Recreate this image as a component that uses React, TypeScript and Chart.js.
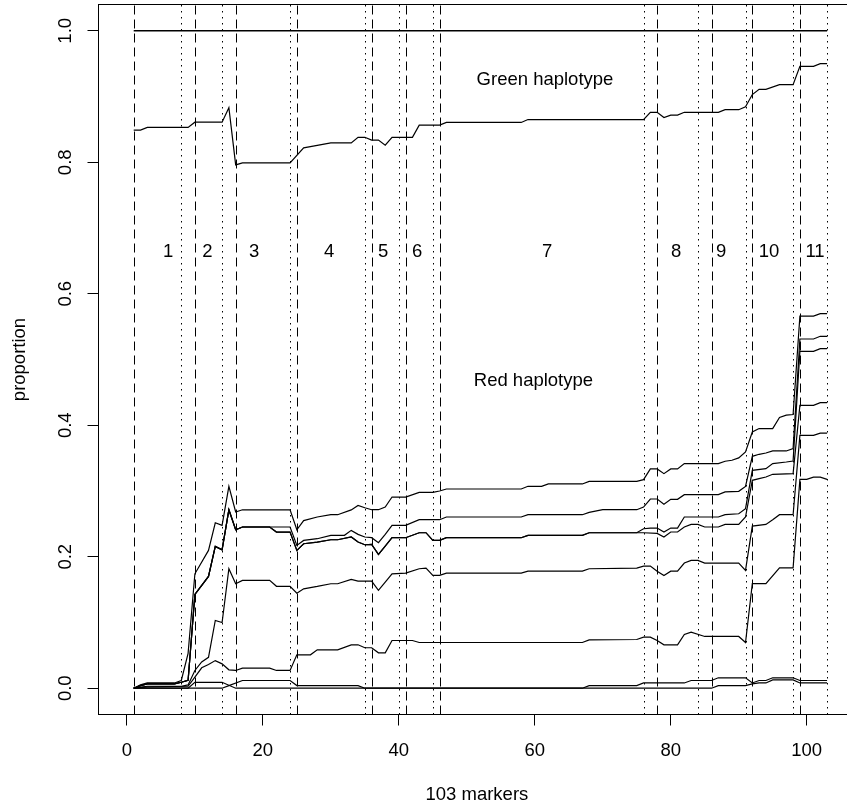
import React, { useEffect, useRef } from 'react';
import { Chart, registerables } from 'chart.js';

Chart.register(...registerables);

const FONT = '"Liberation Sans", Arial, Helvetica, sans-serif';
const FONT_SIZE = 18.5;

// axis ticks
const xTicks = [0, 20, 40, 60, 80, 100];
const yTicks = [0, 0.2, 0.4, 0.6, 0.8, 1.0];

// block boundaries (marker index)
const blockStarts = [1, 10, 16, 25, 36, 41, 46, 78, 86, 92, 99]; // dashed
const blockEnds = [8, 14, 24, 35, 40, 45, 76, 84, 91, 98, 103]; // dotted
const blockLabels = ['1', '2', '3', '4', '5', '6', '7', '8', '9', '10', '11'];
const blockLabelX = [6.07, 11.84, 18.72, 29.75, 37.69, 42.69, 61.81, 80.78, 87.4, 94.46, 101.22];
const blockLabelY = 0.663;

const annotations = [
  { text: 'Green haplotype', x: 61.5, y: 0.926 },
  { text: 'Red haplotype', x: 59.8, y: 0.467 },
];

// series: [marker, proportion]
const totalLine: [number, number][] = [[1, 1], [103, 1]];

const greenLine: [number, number][] = [
  [1, 0.849], [2, 0.849], [3, 0.853], [9, 0.853], [10, 0.861], [14, 0.861], [15, 0.883], [16, 0.796],
  [17, 0.799], [24, 0.799], [26, 0.822], [28, 0.8256], [30, 0.8295], [33, 0.8295], [34, 0.838], [35, 0.838],
  [36, 0.8337], [37, 0.8337], [38, 0.826], [39, 0.838], [42, 0.838], [43, 0.8565], [46, 0.8565], [47, 0.8606],
  [58, 0.8606], [59, 0.865], [76, 0.865], [77, 0.876], [78, 0.876], [79, 0.868], [80, 0.8717], [81, 0.8717],
  [82, 0.876], [87, 0.876], [88, 0.88], [90, 0.88], [91, 0.8843], [92, 0.903], [93, 0.911], [94, 0.911],
  [96, 0.918], [98, 0.918], [99, 0.946], [101, 0.946], [102, 0.95], [103, 0.95],
];

const red1: [number, number][] = [
  [1, 0], [2, 0.005], [3, 0.008], [7, 0.008], [8, 0.0117], [9, 0.053], [10, 0.174], [12, 0.2096], [13, 0.2517],
  [14, 0.2476], [15, 0.307], [16, 0.268], [17, 0.2714], [24, 0.2714], [25, 0.241], [26, 0.255], [28, 0.2604],
  [30, 0.2639], [31, 0.2639], [33, 0.2712], [34, 0.2781], [35, 0.2745], [36, 0.2715], [37, 0.2715], [38, 0.2756],
  [39, 0.2908], [41, 0.2908], [43, 0.2979], [45, 0.2979], [46, 0.3], [47, 0.303], [58, 0.303], [59, 0.3071],
  [61, 0.3071], [62, 0.3107], [67, 0.3107], [68, 0.3147], [75, 0.3147], [76, 0.3173], [77, 0.3335], [78, 0.3335],
  [79, 0.3264], [80, 0.3335], [81, 0.3335], [82, 0.3416], [87, 0.3416], [88, 0.3452], [89, 0.3467], [90, 0.3503],
  [91, 0.3594], [92, 0.3898], [93, 0.395], [95, 0.395], [96, 0.4117], [97, 0.4153], [98, 0.4163], [99, 0.566],
  [101, 0.566], [102, 0.5698], [103, 0.5698],
];

const red2: [number, number][] = [
  [1, 0], [2, 0.004], [3, 0.0065], [7, 0.0065], [8, 0.009], [9, 0.012], [10, 0.1426], [12, 0.17], [13, 0.2157],
  [14, 0.2106], [15, 0.2714], [16, 0.241], [17, 0.2452], [24, 0.2452], [25, 0.2172], [26, 0.2248], [28, 0.2274],
  [30, 0.2325], [32, 0.2325], [33, 0.2401], [34, 0.234], [35, 0.23], [36, 0.229], [37, 0.2213], [38, 0.234],
  [39, 0.2477], [41, 0.2477], [43, 0.2563], [46, 0.2563], [47, 0.2604], [58, 0.2604], [59, 0.2639], [67, 0.2639],
  [68, 0.2675], [70, 0.2715], [75, 0.2715], [76, 0.2756], [77, 0.2878], [78, 0.2878], [79, 0.2797], [80, 0.2873],
  [81, 0.2873], [82, 0.2944], [87, 0.2944], [88, 0.2985], [90, 0.2995], [91, 0.307], [92, 0.3527], [93, 0.3558],
  [94, 0.3578], [95, 0.3609], [97, 0.3609], [98, 0.3645], [99, 0.5312], [101, 0.5312], [102, 0.5353], [103, 0.5353],
];

const red3: [number, number][] = [
  [1, 0], [2, 0.004], [3, 0.0065], [7, 0.0065], [8, 0.009], [9, 0.012], [10, 0.1426], [12, 0.17], [13, 0.2157],
  [14, 0.2106], [15, 0.2714], [16, 0.241], [17, 0.2452], [21, 0.2452], [22, 0.2375], [24, 0.2375], [25, 0.2096],
  [26, 0.2198], [28, 0.2223], [30, 0.2258], [31, 0.2258], [33, 0.23], [34, 0.2223], [35, 0.2182], [36, 0.2187],
  [37, 0.2035], [38, 0.2161], [39, 0.2289], [41, 0.2289], [43, 0.2365], [44, 0.2365], [45, 0.2248], [46, 0.2248],
  [47, 0.2289], [58, 0.2289], [59, 0.2325], [67, 0.2325], [68, 0.2365], [75, 0.2365], [76, 0.2426], [77, 0.2436],
  [78, 0.2436], [79, 0.2375], [80, 0.2436], [81, 0.2436], [82, 0.2604], [87, 0.2604], [88, 0.2639], [90, 0.2654],
  [91, 0.2731], [92, 0.3314], [94, 0.334], [95, 0.3416], [97, 0.3441], [98, 0.3456], [99, 0.5125], [101, 0.5125],
  [102, 0.5166], [103, 0.5166],
];

const red4: [number, number][] = [
  [1, 0], [2, 0.004], [3, 0.0065], [7, 0.0065], [8, 0.009], [9, 0.012], [10, 0.1426], [12, 0.17], [13, 0.2157],
  [14, 0.2106], [15, 0.2714], [16, 0.241], [17, 0.2452], [21, 0.2452], [22, 0.2375], [24, 0.2375], [25, 0.2096],
  [26, 0.2198], [28, 0.2223], [30, 0.2258], [31, 0.2258], [33, 0.23], [34, 0.2223], [35, 0.2182], [36, 0.2187],
  [37, 0.2035], [38, 0.2161], [39, 0.2289], [41, 0.2289], [43, 0.2365], [44, 0.2365], [45, 0.2248], [46, 0.2248],
  [47, 0.2289], [58, 0.2289], [59, 0.2325], [67, 0.2325], [68, 0.2365], [76, 0.2365], [78, 0.2355], [79, 0.23],
  [80, 0.2376], [81, 0.2376], [82, 0.2452], [83, 0.2492], [84, 0.2492], [85, 0.2452], [87, 0.2452], [88, 0.2492],
  [90, 0.2492], [91, 0.2604], [92, 0.3162], [93, 0.3188], [94, 0.3213], [95, 0.3254], [98, 0.3264], [99, 0.4303],
  [101, 0.4303], [102, 0.4344], [103, 0.4344],
];

const red5: [number, number][] = [
  [1, 0], [3, 0.003], [8, 0.003], [9, 0.005], [10, 0.027], [11, 0.04], [12, 0.047], [13, 0.103], [14, 0.1],
  [15, 0.1817], [16, 0.159], [17, 0.164], [21, 0.164], [22, 0.155], [24, 0.155], [25, 0.1446], [26, 0.1512],
  [28, 0.1548], [30, 0.1589], [31, 0.1589], [33, 0.1655], [34, 0.163], [36, 0.163], [37, 0.1488], [38, 0.1615],
  [39, 0.174], [41, 0.175], [43, 0.1817], [44, 0.1827], [45, 0.1716], [46, 0.1716], [47, 0.175], [58, 0.175],
  [59, 0.178], [67, 0.178], [68, 0.1817], [75, 0.1827], [76, 0.1858], [77, 0.1858], [78, 0.178], [79, 0.1714],
  [80, 0.178], [81, 0.178], [82, 0.1904], [83, 0.1944], [84, 0.1944], [85, 0.1904], [90, 0.1904], [91, 0.1792],
  [92, 0.2466], [94, 0.2492], [95, 0.2563], [96, 0.2639], [98, 0.2639], [99, 0.3846], [101, 0.3846], [102, 0.3881],
  [103, 0.3881],
];

const red6: [number, number][] = [
  [1, 0], [3, 0.002], [9, 0.003], [10, 0.017], [11, 0.031], [12, 0.036], [13, 0.042], [14, 0.037], [15, 0.028],
  [16, 0.027], [17, 0.0305], [21, 0.0305], [22, 0.027], [24, 0.027], [25, 0.0508], [27, 0.0508], [28, 0.0584],
  [31, 0.0584], [33, 0.066], [34, 0.066], [35, 0.0615], [36, 0.0615], [37, 0.0538], [38, 0.0538], [39, 0.0726],
  [42, 0.0726], [43, 0.0695], [67, 0.0695], [68, 0.0736], [75, 0.0741], [76, 0.0777], [77, 0.0777], [78, 0.0726],
  [79, 0.066], [81, 0.066], [82, 0.0817], [83, 0.0853], [85, 0.0787], [90, 0.0787], [91, 0.0695], [92, 0.159],
  [94, 0.159], [96, 0.183], [98, 0.183], [99, 0.3177], [100, 0.3177], [101, 0.321], [102, 0.321], [103, 0.3177],
];

const red7: [number, number][] = [
  [1, 0], [9, 0], [10, 0.009], [14, 0.009], [16, 0], [86, 0], [87, 0.004], [91, 0.004], [92, 0.0066], [93, 0.008],
  [94, 0.008], [95, 0.0127], [98, 0.0127], [99, 0.008], [103, 0.008],
];

const red8: [number, number][] = [
  [1, 0], [14, 0], [15, 0.004], [17, 0.0117], [24, 0.0117], [25, 0.004], [34, 0.004], [35, 0], [67, 0], [68, 0.004],
  [75, 0.004], [76, 0.008], [82, 0.008], [83, 0.0117], [86, 0.0117], [87, 0.0158], [91, 0.0158], [92, 0.008],
  [93, 0.0117], [94, 0.0117], [95, 0.0158], [98, 0.0158], [99, 0.0117], [103, 0.0117],
];

const seriesList: { name: string; pts: [number, number][]; width: number }[] = [
  { name: 'total', pts: totalLine, width: 1.5 },
  { name: 'green', pts: greenLine, width: 1.2 },
  { name: 'red1', pts: red1, width: 1.2 },
  { name: 'red2', pts: red2, width: 1.2 },
  { name: 'red3', pts: red3, width: 1.2 },
  { name: 'red4', pts: red4, width: 1.2 },
  { name: 'red5', pts: red5, width: 1.2 },
  { name: 'red6', pts: red6, width: 1.2 },
  { name: 'red7', pts: red7, width: 1.2 },
  { name: 'red8', pts: red8, width: 1.2 },
];

const decorPlugin = {
  id: 'decor',
  beforeDatasetsDraw(chart: any) {
    const { ctx, chartArea } = chart;
    const xs = chart.scales.x;
    ctx.save();
    ctx.beginPath();
    ctx.rect(chartArea.left, chartArea.top, chartArea.right - chartArea.left, chartArea.bottom - chartArea.top);
    ctx.clip();
    ctx.strokeStyle = '#000';
    ctx.lineWidth = 1;
    const drawV = (v: number, dash: number[]) => {
      const px = Math.round(xs.getPixelForValue(v)) + 0.5;
      ctx.setLineDash(dash);
      ctx.beginPath();
      ctx.moveTo(px, chartArea.bottom);
      ctx.lineTo(px, chartArea.top);
      ctx.stroke();
    };
    blockStarts.forEach((v) => drawV(v, [9, 5]));
    blockEnds.forEach((v) => drawV(v, [1.5, 4.5]));
    ctx.restore();
  },
  afterDatasetsDraw(chart: any) {
    const { ctx, chartArea } = chart;
    const xs = chart.scales.x;
    const ys = chart.scales.y;
    ctx.save();
    ctx.strokeStyle = '#000';
    ctx.lineWidth = 1;
    ctx.setLineDash([]);
    ctx.strokeRect(chartArea.left, chartArea.top, chartArea.right - chartArea.left, chartArea.bottom - chartArea.top);
    ctx.fillStyle = '#000';
    ctx.font = `${FONT_SIZE}px ${FONT}`;
    ctx.textAlign = 'center';
    ctx.textBaseline = 'middle';
    blockLabels.forEach((t, i) => {
      ctx.fillText(t, xs.getPixelForValue(blockLabelX[i]), ys.getPixelForValue(blockLabelY));
    });
    annotations.forEach((a) => {
      ctx.fillText(a.text, xs.getPixelForValue(a.x), ys.getPixelForValue(a.y));
    });
    ctx.restore();
  },
};

export default function App() {
  const ref = useRef<HTMLCanvasElement | null>(null);
  useEffect(() => {
    if (!ref.current) return;
    const chart = new Chart(ref.current, {
      type: 'line',
      data: {
        datasets: seriesList.map((s) => ({
          label: s.name,
          data: s.pts.map(([x, y]) => ({ x, y })),
          borderColor: '#000',
          borderWidth: s.width,
          pointRadius: 0,
          tension: 0,
          fill: false,
        })),
      },
      options: {
        animation: false,
        responsive: false,
        events: [],
        layout: { padding: { left: 0, top: 4.5, right: 14.7, bottom: 0 } },
        plugins: { legend: { display: false }, tooltip: { enabled: false } },
        scales: {
          x: {
            type: 'linear',
            min: -4.18,
            max: 107.15,
            afterBuildTicks: (a: any) => {
              a.ticks = xTicks.map((v) => ({ value: v }));
            },
            afterFit: (s: any) => {
              s.height = 93.5;
              s.paddingLeft = 0;
              s.paddingRight = 0;
            },
            grid: { drawOnChartArea: false, drawTicks: true, tickLength: 11, color: '#000', lineWidth: 1 },
            border: { display: false },
            ticks: {
              color: '#000',
              font: { family: FONT, size: FONT_SIZE },
              padding: 14,
              maxRotation: 0,
              autoSkip: false,
              callback: (v: any) => String(v),
            },
            title: {
              display: true,
              text: '103 markers',
              color: '#000',
              font: { family: FONT, size: FONT_SIZE },
              padding: { top: 0, bottom: 2 },
            },
          },
          y: {
            type: 'linear',
            min: -0.04,
            max: 1.04,
            afterBuildTicks: (a: any) => {
              a.ticks = yTicks.map((v) => ({ value: v }));
            },
            afterFit: (s: any) => {
              s.width = 98.5;
              s.paddingTop = 0;
              s.paddingBottom = 0;
            },
            grid: { drawOnChartArea: false, drawTicks: true, tickLength: 11, color: '#000', lineWidth: 1 },
            border: { display: false },
            ticks: {
              color: '#000',
              font: { family: FONT, size: FONT_SIZE },
              padding: 8.6,
              minRotation: 90,
              maxRotation: 90,
              crossAlign: 'center',
              autoSkip: false,
              callback: (v: any) => Number(v).toFixed(1),
            },
            title: {
              display: true,
              text: 'proportion',
              color: '#000',
              font: { family: FONT, size: FONT_SIZE },
              padding: { top: 9, bottom: 0 },
            },
          },
        },
      } as any,
      plugins: [decorPlugin],
    });
    return () => chart.destroy();
  }, []);

  return (
    <div
      style={{
        position: 'absolute',
        left: 0,
        top: 0,
        width: 847,
        height: 808,
        overflow: 'hidden',
        background: '#fff',
      }}
    >
      <canvas ref={ref} width={870} height={808} style={{ display: 'block' }} />
    </div>
  );
}
